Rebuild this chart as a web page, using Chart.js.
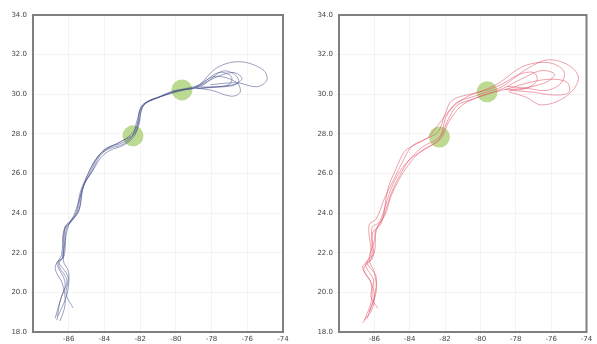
<!DOCTYPE html>
<html>
<head>
<meta charset="utf-8">
<script src="https://cdn.jsdelivr.net/npm/chart.js@4"></script>
<style>
  html, body { margin: 0; padding: 0; background: #fff; }
  #wrap { position: relative; width: 597px; height: 344px; }
  canvas { position: absolute; top: 0; }
</style>
</head>
<body>
<div id="wrap">
  <canvas id="izq" width="297" height="344" style="left:0"></canvas>
  <canvas id="der" width="300" height="344" style="left:297px"></canvas>
</div>
<script>
// etiquetas de los ejes (ilegibles en el original, valores aproximados)
const xTickLabels = ['', '-86', '-84', '-82', '-80', '-78', '-76', '-74'];
const yTickLabels = ['18.0', '20.0', '22.0', '24.0', '26.0', '28.0', '30.0', '32.0', '34.0'];

// trayectorias azules (panel izquierdo)
const azul1 = [[0.67,0.30],[0.75,0.75],[0.90,1.24],[0.67,1.74],[0.84,1.89],[0.90,2.65],[1.04,2.78],[1.23,3.01],[1.37,3.59],[1.60,4.02],[1.82,4.42],[2.07,4.65],[2.49,4.77],[2.80,4.97],[2.94,5.28],[3.00,5.61],[3.14,5.78],[3.47,5.91],[3.92,6.06],[4.17,6.11],[4.59,6.19],[5.15,6.67],[5.80,6.82],[6.44,6.62],[6.55,6.36],[6.27,6.19],[5.71,6.29],[4.96,6.24]];
const azul2 = [[0.62,0.35],[0.80,0.90],[0.95,1.30],[0.72,1.70],[0.88,1.95],[0.93,2.60],[1.08,2.80],[1.28,3.05],[1.40,3.65],[1.65,4.05],[1.88,4.45],[2.12,4.62],[2.52,4.74],[2.78,4.94],[2.90,5.30],[3.03,5.65],[3.20,5.80],[3.55,5.93],[3.95,6.04],[4.20,6.10],[4.65,6.22],[5.20,6.55],[5.55,6.45],[5.50,6.25],[5.00,6.17],[4.55,6.15]];
const azul3 = [[1.12,0.61],[0.93,0.95],[0.98,1.40],[0.70,1.78],[0.82,1.85],[0.88,2.62],[1.00,2.76],[1.20,3.00],[1.33,3.55],[1.55,4.00],[1.78,4.38],[2.02,4.60],[2.45,4.80],[2.76,5.00],[2.92,5.25],[2.98,5.58],[3.10,5.76],[3.45,5.90],[3.90,6.08],[4.15,6.12],[4.60,6.22],[5.10,6.45],[5.70,6.30],[5.80,6.05],[5.55,5.95],[5.00,6.10],[4.62,6.15]];
const azul4 = [[0.76,0.28],[0.90,0.70],[0.83,1.20],[0.62,1.62],[0.80,1.95],[0.86,2.55],[1.10,2.82],[1.30,3.10],[1.42,3.70],[1.68,4.08],[1.90,4.40],[2.15,4.58],[2.55,4.72],[2.84,4.95],[2.98,5.35],[3.06,5.66],[3.25,5.84],[3.60,5.95],[3.98,6.08],[4.22,6.13],[4.70,6.20],[5.30,6.58],[5.65,6.50],[5.75,6.30],[5.30,6.20],[4.70,6.18]];
const azul5 = [[0.70,0.40],[0.95,0.95],[1.00,1.50],[0.85,1.80],[0.92,2.40],[1.00,2.70],[1.15,2.95],[1.35,3.50],[1.52,3.95],[1.75,4.35],[2.00,4.58],[2.40,4.78],[2.82,4.98],[2.96,5.22],[3.02,5.55],[3.12,5.74],[3.40,5.88],[3.88,6.04],[4.14,6.10],[4.55,6.16],[5.05,6.40],[5.60,6.55],[5.85,6.40],[5.60,6.22],[5.00,6.18],[4.58,6.14]];

// trayectorias rojas (panel derecho)
const rojo1 = [[0.67,0.23],[0.96,0.63],[0.96,1.14],[0.67,1.64],[0.96,1.89],[0.93,2.63],[1.15,2.78],[1.43,3.51],[1.63,3.91],[1.91,4.27],[2.36,4.67],[2.84,4.92],[3.03,5.43],[3.31,5.78],[3.76,5.93],[4.19,6.06],[4.61,6.19],[5.28,6.62],[5.93,6.87],[6.57,6.69],[6.77,6.36],[6.40,5.93],[5.73,5.73],[5.28,5.93],[4.80,6.06]];
const rojo2 = [[1.10,0.60],[0.90,0.90],[0.98,1.30],[0.75,1.70],[0.90,1.95],[0.85,2.70],[1.05,2.85],[1.30,3.40],[1.55,3.85],[1.80,4.30],[2.05,4.68],[2.40,4.85],[2.80,5.05],[3.00,5.50],[3.20,5.85],[3.70,6.00],[4.15,6.10],[4.60,6.25],[5.10,6.50],[5.50,6.55],[5.60,6.35],[5.30,6.15],[4.80,6.10]];
const rojo3 = [[0.80,0.35],[1.00,0.90],[1.05,1.40],[0.80,1.75],[1.00,2.00],[1.05,2.55],[1.25,2.90],[1.50,3.55],[1.72,3.95],[2.00,4.35],[2.45,4.62],[2.88,4.88],[3.10,5.30],[3.45,5.70],[3.85,5.90],[4.22,6.02],[4.70,6.12],[5.40,6.30],[6.00,6.38],[6.45,6.30],[6.50,6.05],[6.10,5.98],[5.50,6.05],[4.85,6.10]];
const rojo4 = [[0.72,0.30],[0.92,0.80],[0.90,1.25],[0.70,1.60],[0.92,1.85],[0.95,2.50],[1.20,2.75],[1.38,3.60],[1.58,4.05],[1.85,4.55],[2.10,4.70],[2.50,4.90],[2.70,5.10],[2.95,5.40],[3.25,5.70],[3.65,5.95],[4.10,6.10],[4.55,6.30],[5.20,6.70],[5.90,6.80],[6.35,6.60],[6.30,6.30],[5.90,6.10],[5.30,6.15],[4.75,6.20]];
const rojo5 = [[0.85,0.50],[1.05,1.00],[1.00,1.50],[0.85,1.85],[1.00,2.30],[1.05,2.60],[1.30,2.95],[1.48,3.45],[1.70,3.85],[1.95,4.20],[2.30,4.55],[2.82,4.85],[3.08,5.35],[3.35,5.72],[3.80,5.88],[4.20,6.00],[4.65,6.15],[5.30,6.45],[5.75,6.60],[6.10,6.50],[5.85,6.30],[5.20,6.15],[4.70,6.12]];

// puntos verdes
const circulosIzq = [[2.80,4.95],[4.17,6.11]];
const circulosDer = [[2.84,4.92],[4.19,6.06]];

const toXY = arr => arr.map(p => ({ x: p[0], y: p[1] }));

// borde completo del área de trazado
const bordeCaja = {
    id: 'bordeCaja',
    afterDatasetsDraw(chart) {
        const a = chart.chartArea;
        const c = chart.ctx;
        c.save();
        c.strokeStyle = '#7f7f7f';
        c.lineWidth = 2;
        c.strokeRect(a.left, a.top, a.right - a.left, a.bottom - a.top);
        c.restore();
    }
};

function crearPanel(id, trayectorias, color, circulos, anchoEjeY, padDer) {
    const datasets = trayectorias.map(t => ({
        data: toXY(t),
        showLine: true,
        borderColor: color,
        borderWidth: 0.9,
        pointRadius: 0,
        tension: 0.35,
        fill: false
    }));
    datasets.push({
        data: toXY(circulos),
        pointRadius: 10.5,
        pointBackgroundColor: 'rgba(165, 205, 110, 0.75)',
        pointBorderWidth: 0,
        showLine: false
    });

    return new Chart(document.getElementById(id), {
        type: 'scatter',
        data: { datasets },
        options: {
            responsive: false,
            animation: false,
            layout: { padding: { top: 15, right: padDer, left: 0, bottom: 0 } },
            plugins: { legend: { display: false }, tooltip: { enabled: false } },
            scales: {
                x: {
                    min: 0, max: 7,
                    afterFit: s => { s.height = 12; },
                    border: { display: false },
                    grid: { color: 'rgba(0,0,0,0.045)', tickLength: 2 },
                    ticks: {
                        stepSize: 1, padding: 1, maxRotation: 0, autoSkip: false,
                        color: '#444', font: { size: 7, family: 'DejaVu Sans' },
                        callback: (v) => xTickLabels[Math.round(v)]
                    }
                },
                y: {
                    min: 0, max: 8,
                    afterFit: s => { s.width = anchoEjeY; },
                    border: { display: false },
                    grid: { color: 'rgba(0,0,0,0.045)', tickLength: 3 },
                    ticks: {
                        stepSize: 1, padding: 3, autoSkip: false,
                        color: '#444', font: { size: 7, family: 'DejaVu Sans' },
                        callback: (v) => yTickLabels[Math.round(v)]
                    }
                }
            }
        },
        plugins: [bordeCaja]
    });
}

crearPanel('izq', [azul1, azul2, azul3, azul4, azul5], 'rgba(70, 80, 140, 0.6)', circulosIzq, 33, 14);
crearPanel('der', [rojo1, rojo2, rojo3, rojo4, rojo5], 'rgba(225, 80, 100, 0.6)', circulosDer, 42, 9);
</script>
</body>
</html>
